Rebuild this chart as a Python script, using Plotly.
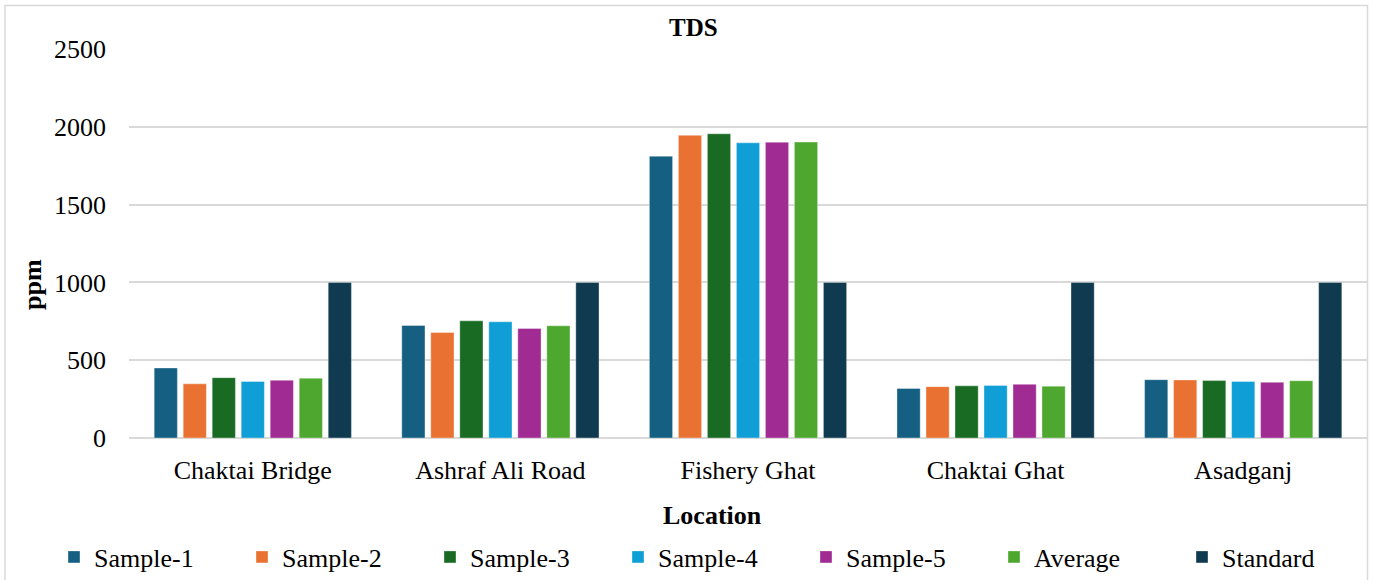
import plotly.graph_objects as go

# TDS readings (ppm) per sampling location
locations = ["Chaktai Bridge", "Ashraf Ali Road", "Fishery Ghat", "Chaktai Ghat", "Asadganj"]
sample_1 = [450, 723, 1811, 318, 375]
sample_2 = [348, 678, 1945, 330, 373]
sample_3 = [388, 753, 1955, 335, 369]
sample_4 = [363, 747, 1897, 337, 363]
sample_5 = [371, 704, 1901, 345, 358]
average = [384, 721, 1902, 333, 368]
standard = [1000, 1000, 1000, 1000, 1000]

series_names = ["Sample-1", "Sample-2", "Sample-3", "Sample-4", "Sample-5", "Average", "Standard"]
series_values = [sample_1, sample_2, sample_3, sample_4, sample_5, average, standard]
series_colors = ["#156082", "#E97132", "#196B24", "#0F9ED5", "#A02B93", "#4EA72E", "#0F3A4F"]

FONT = "Liberation Serif, Times New Roman, serif"

W, H = 1373, 580
L, R, T, B = 129, 6, 49, 142
pw, ph = W - L - R, H - T - B

def px_x(x):
    return (x - L) / pw

def px_y(y):
    return (H - B - y) / ph

fig = go.Figure()
for name, vals, col in zip(series_names, series_values, series_colors):
    fig.add_trace(go.Bar(
        x=locations, y=vals, name=name,
        marker=dict(color=col, line=dict(width=0.8, color="rgba(255,255,255,0.45)")),
    ))

fig.update_layout(
    width=W, height=H,
    margin=dict(l=L, r=R, t=T, b=B, autoexpand=False),
    paper_bgcolor="white", plot_bgcolor="white",
    barmode="group", bargap=0.18, bargroupgap=0.2,
    font=dict(family=FONT, size=26, color="black"),
    title=dict(text="<b>TDS</b>", x=0.505, xanchor="center", xref="container",
               y=1 - 27 / H, yanchor="middle", yref="container",
               font=dict(family=FONT, size=25, color="black")),
    xaxis=dict(showgrid=False, zeroline=False, showline=False, ticks="",
               ticklabelstandoff=14, tickfont=dict(family=FONT, size=26, color="black")),
    yaxis=dict(range=[0, 2500], dtick=500, showgrid=True, gridcolor="#d9d9d9", gridwidth=1.5,
               zeroline=True, zerolinecolor="#d9d9d9", zerolinewidth=1.5,
               showline=False, ticks="", ticklabelstandoff=22,
               tickfont=dict(family=FONT, size=26, color="black")),
    legend=dict(orientation="h", x=px_x(54), xanchor="left", y=px_y(557), yanchor="middle",
                entrywidth=143, entrywidthmode="pixels", traceorder="normal",
                font=dict(family=FONT, size=26, color="black"), bgcolor="rgba(0,0,0,0)"),
    annotations=[
        dict(text="<b>Location</b>", xref="paper", yref="paper", x=px_x(712), y=px_y(515),
             xanchor="center", yanchor="middle", showarrow=False,
             font=dict(family=FONT, size=26, color="black")),
        dict(text="<b>ppm</b>", xref="paper", yref="paper", x=px_x(32), y=px_y(285),
             xanchor="center", yanchor="middle", showarrow=False, textangle=-90,
             font=dict(family=FONT, size=26, color="black")),
    ],
    shapes=[
        dict(type="rect", xref="paper", yref="paper", layer="below",
             x0=px_x(5), x1=px_x(1367.5), y0=px_y(590), y1=px_y(5.5),
             line=dict(color="#d9d9d9", width=1.5), fillcolor="rgba(0,0,0,0)"),
    ],
)

fig.write_html("out.html")
